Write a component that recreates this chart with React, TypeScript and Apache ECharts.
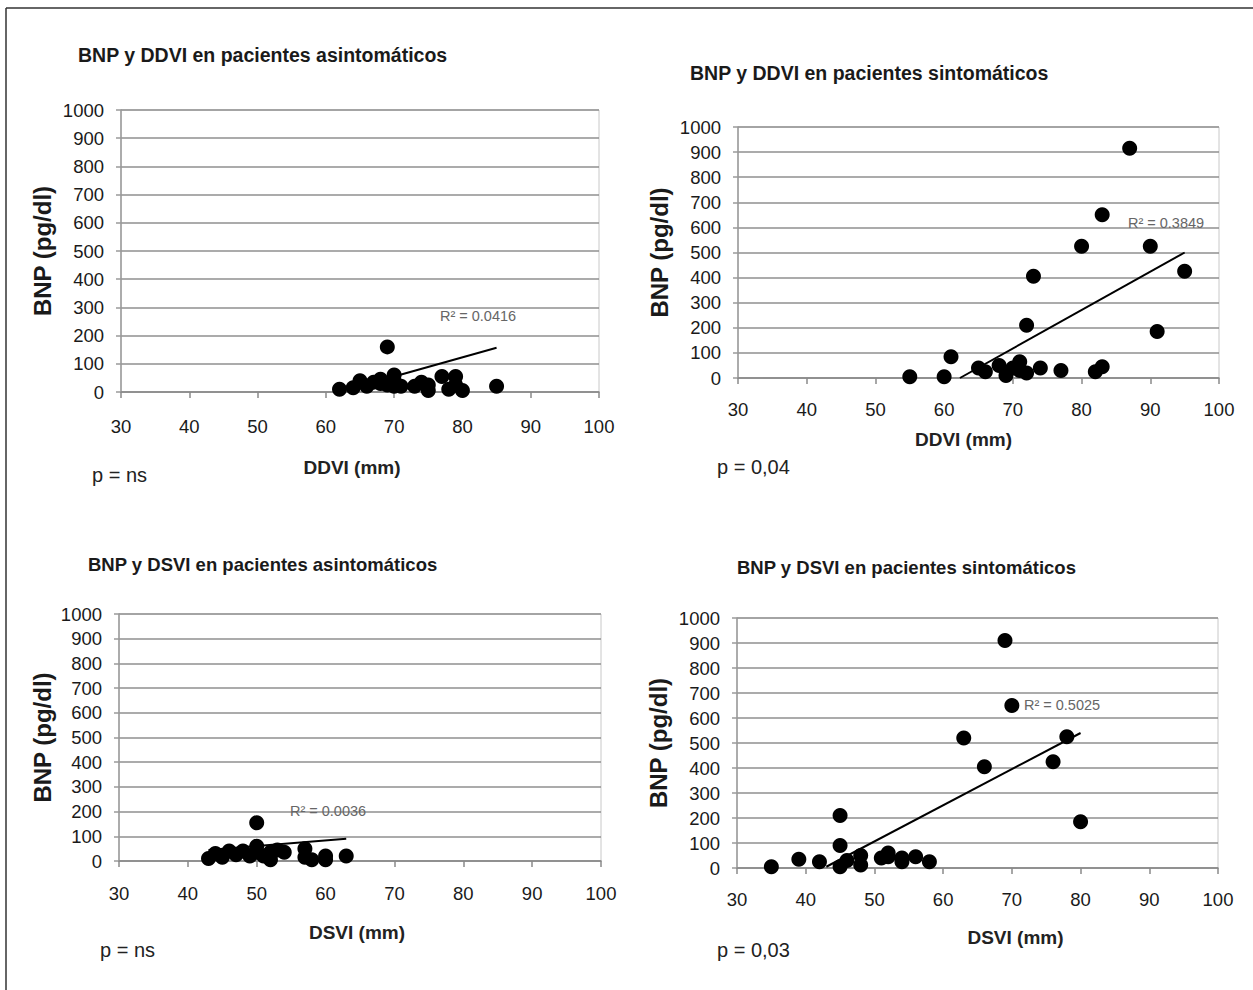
import React, { useEffect, useRef } from "react";
import * as echarts from "echarts";

// ---- Data ----
const TITLES = [
  "BNP y DDVI en pacientes asintomáticos",
  "BNP y DDVI en pacientes sintomáticos",
  "BNP y DSVI en pacientes asintomáticos",
  "BNP y DSVI en pacientes sintomáticos",
];
const X_NAMES = ["DDVI (mm)", "DDVI (mm)", "DSVI (mm)", "DSVI (mm)"];
const Y_NAME = "BNP (pg/dl)";
const P_LABELS = ["p = ns", "p = 0,04", "p = ns", "p = 0,03"];
const R2_LABELS = ["R² = 0.0416", "R² = 0.3849", "R² = 0.0036", "R² = 0.5025"];

const X_MIN = 30, X_MAX = 100, X_STEP = 10;
const Y_MIN = 0, Y_MAX = 1000, Y_STEP = 100;

const DDVI_ASINT_X = [62, 64, 65, 66, 67, 68, 68, 69, 69, 70, 70, 70, 71, 73, 74, 75, 75, 77, 78, 79, 79, 80, 85];
const DDVI_ASINT_Y = [10, 15, 40, 20, 35, 45, 30, 160, 25, 60, 20, 40, 20, 20, 35, 5, 25, 55, 10, 55, 25, 5, 20];
const DDVI_ASINT_TREND = [[70, 55], [85, 157]];

const DDVI_SINT_X = [55, 60, 61, 65, 66, 68, 69, 70, 71, 71, 72, 72, 73, 74, 77, 80, 82, 83, 83, 87, 90, 91, 95];
const DDVI_SINT_Y = [5, 5, 85, 40, 25, 50, 10, 40, 65, 30, 20, 210, 405, 40, 30, 525, 25, 45, 650, 915, 525, 185, 425];
const DDVI_SINT_TREND = [[62.3, 0], [95, 500]];

const DSVI_ASINT_X = [43, 44, 45, 46, 47, 48, 49, 50, 50, 50, 51, 52, 52, 53, 54, 57, 57, 58, 60, 60, 63];
const DSVI_ASINT_Y = [10, 30, 15, 40, 25, 40, 20, 35, 60, 155, 20, 35, 5, 45, 35, 50, 15, 5, 20, 5, 20];
const DSVI_ASINT_TREND = [[43, 45], [63, 90]];

const DSVI_SINT_X = [35, 39, 42, 45, 45, 45, 46, 48, 48, 51, 52, 52, 54, 54, 56, 58, 63, 66, 69, 70, 76, 78, 80];
const DSVI_SINT_Y = [5, 35, 25, 5, 90, 210, 30, 50, 12, 40, 60, 45, 40, 25, 45, 25, 520, 405, 910, 650, 425, 525, 185];
const DSVI_SINT_TREND = [[43, 5], [80, 540]];

const PANELS_X = [DDVI_ASINT_X, DDVI_SINT_X, DSVI_ASINT_X, DSVI_SINT_X];
const PANELS_Y = [DDVI_ASINT_Y, DDVI_SINT_Y, DSVI_ASINT_Y, DSVI_SINT_Y];
const PANELS_TREND = [DDVI_ASINT_TREND, DDVI_SINT_TREND, DSVI_ASINT_TREND, DSVI_SINT_TREND];

// ---- Layout ----
const FONT = "'Liberation Sans', Arial, sans-serif";
const GRIDS = [
  { left: 121, top: 110, width: 478, height: 282 },
  { left: 738, top: 127, width: 481, height: 251 },
  { left: 119, top: 614, width: 482, height: 247 },
  { left: 737, top: 618, width: 481, height: 250 },
];
const TITLE_POS = [
  { left: 78, top: 45 },
  { left: 690, top: 63 },
  { left: 88, top: 555 },
  { left: 737, top: 558 },
];
const TITLE_SIZES = [19.5, 19.5, 18.5, 18.5];
const XLABEL_MARGIN = [25, 22, 23, 22];
const XNAME_GAP = [66, 52, 62, 60];
const XNAME_SHIFT = [-8, -15, -3, 38];
const YNAME_GAP = [67, 67, 65, 67];
const P_POS = [
  [92, 475],
  [717, 467],
  [100, 950],
  [717, 950],
];
const R2_POS = [
  [478, 316],
  [1166, 223],
  [328, 811],
  [1062, 705],
];

function buildOption() {
  const grid = GRIDS.map((g) => ({
    ...g,
    show: true,
    borderColor: "#c8c8c8",
    borderWidth: 1,
    containLabel: false,
  }));
  const xAxis = GRIDS.map((_, i) => ({
    type: "value",
    gridIndex: i,
    min: X_MIN,
    max: X_MAX,
    interval: X_STEP,
    name: X_NAMES[i],
    nameLocation: "middle",
    nameGap: XNAME_GAP[i],
    nameTextStyle: {
      fontFamily: FONT,
      fontWeight: "bold",
      fontSize: 19,
      color: "#222",
      padding: XNAME_SHIFT[i] >= 0 ? [0, 0, 0, XNAME_SHIFT[i] * 2] : [0, -XNAME_SHIFT[i] * 2, 0, 0],
    },
    axisLine: { show: true, onZero: false, lineStyle: { color: "#8a8a8a", width: 1.5 } },
    axisTick: { show: true, length: 6, lineStyle: { color: "#8a8a8a", width: 1.5 } },
    axisLabel: { fontFamily: FONT, fontSize: 18.5, color: "#1a1a1a", margin: XLABEL_MARGIN[i] },
    splitLine: { show: false },
  }));
  const yAxis = GRIDS.map((_, i) => ({
    type: "value",
    gridIndex: i,
    min: Y_MIN,
    max: Y_MAX,
    interval: Y_STEP,
    name: Y_NAME,
    nameLocation: "middle",
    nameGap: YNAME_GAP[i],
    nameRotate: 90,
    nameTextStyle: { fontFamily: FONT, fontWeight: "bold", fontSize: 24, color: "#1a1a1a" },
    axisLine: { show: true, lineStyle: { color: "#9a9a9a", width: 1.5 } },
    axisTick: { show: true, length: 5, lineStyle: { color: "#9a9a9a", width: 1.5 } },
    axisLabel: {
      fontFamily: FONT,
      fontSize: 18.5,
      color: "#1a1a1a",
      margin: 17,
      formatter: (v: number) => String(v),
    },
    splitLine: { show: true, lineStyle: { color: "#8f8f8f", width: 1.5 } },
  }));
  const series: any[] = [];
  PANELS_X.forEach((xs, i) => {
    series.push({
      type: "scatter",
      xAxisIndex: i,
      yAxisIndex: i,
      symbol: "circle",
      symbolSize: 15,
      itemStyle: { color: "#000", opacity: 1 },
      data: xs.map((x, k) => [x, PANELS_Y[i][k]]),
      z: 3,
    });
    series.push({
      type: "line",
      xAxisIndex: i,
      yAxisIndex: i,
      symbol: "none",
      lineStyle: { color: "#000", width: 2 },
      data: PANELS_TREND[i],
      z: 4,
    });
  });
  const title = TITLES.map((t, i) => ({
    text: t,
    left: TITLE_POS[i].left,
    top: TITLE_POS[i].top,
    padding: 0,
    textStyle: { fontFamily: FONT, fontWeight: "bold", fontSize: TITLE_SIZES[i], color: "#1a1a1a" },
  }));
  const graphic: any[] = [
    { type: "line", shape: { x1: 6, y1: 8, x2: 1253, y2: 8 }, style: { stroke: "#333", lineWidth: 1.5 } },
    { type: "line", shape: { x1: 6, y1: 8, x2: 6, y2: 990 }, style: { stroke: "#333", lineWidth: 1.5 } },
  ];
  P_LABELS.forEach((t, i) => {
    graphic.push({
      type: "text",
      x: P_POS[i][0],
      y: P_POS[i][1],
      style: { text: t, fontFamily: FONT, fontSize: 20, fill: "#222", verticalAlign: "middle", align: "left" },
    });
  });
  R2_LABELS.forEach((t, i) => {
    graphic.push({
      type: "text",
      x: R2_POS[i][0],
      y: R2_POS[i][1],
      z: 10,
      style: { text: t, fontFamily: FONT, fontSize: 14.5, fill: "#666", verticalAlign: "middle", align: "center" },
    });
  });
  return {
    animation: false,
    backgroundColor: "#fff",
    title,
    grid,
    xAxis,
    yAxis,
    series,
    graphic,
  };
}

export default function App() {
  const ref = useRef<HTMLDivElement>(null);
  useEffect(() => {
    if (!ref.current) return;
    const chart = echarts.init(ref.current, null, { renderer: "svg" });
    chart.setOption(buildOption() as any);
    return () => chart.dispose();
  }, []);
  return (
    <div
      ref={ref}
      style={{ position: "absolute", left: 0, top: 0, width: 1253, height: 990, background: "#fff" }}
    />
  );
}
